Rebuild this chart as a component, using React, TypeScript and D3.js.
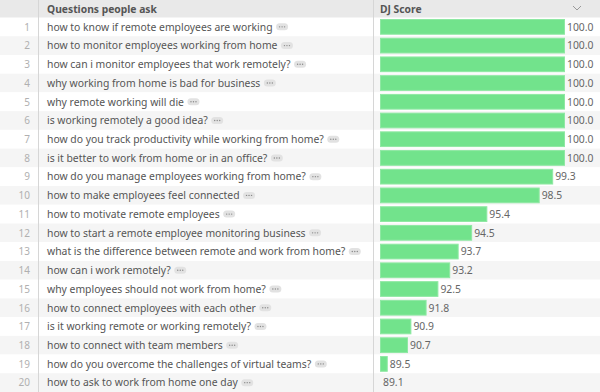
import React from "react";
import * as d3 from "d3";

const questions: string[] = [
  "how to know if remote employees are working",
  "how to monitor employees working from home",
  "how can i monitor employees that work remotely?",
  "why working from home is bad for business",
  "why remote working will die",
  "is working remotely a good idea?",
  "how do you track productivity while working from home?",
  "is it better to work from home or in an office?",
  "how do you manage employees working from home?",
  "how to make employees feel connected",
  "how to motivate remote employees",
  "how to start a remote employee monitoring business",
  "what is the difference between remote and work from home?",
  "how can i work remotely?",
  "why employees should not work from home?",
  "how to connect employees with each other",
  "is it working remote or working remotely?",
  "how to connect with team members",
  "how do you overcome the challenges of virtual teams?",
  "how to ask to work from home one day",
];
const scores: number[] = [100.0, 100.0, 100.0, 100.0, 100.0, 100.0, 100.0, 100.0, 99.3, 98.5, 95.4, 94.5, 93.7, 93.2, 92.5, 91.8, 90.9, 90.7, 89.5, 89.1];
const headers: string[] = ["Questions people ask", "DJ Score"];

const W = 600;
const H = 392;
const headerH = 17.5;
const rowH = (H - headerH) / questions.length;
const FONT = "'Noto Sans', sans-serif";

function measure(text: string, size: number, weight = 400): number {
  const c = document.createElement("canvas").getContext("2d")!;
  c.font = `${weight} ${size}px 'Noto Sans'`;
  return c.measureText(text).width;
}

export default function App() {
  const FS = Math.min(11.5, Math.max(9, (10 * 226) / measure(questions[0], 10)));
  const HFS = Math.min(12, Math.max(9, (10 * 110) / measure(headers[0], 10, 700)));
  const x = d3.scaleLinear().domain([d3.min(scores)!, d3.max(scores)!]).range([380, 564]);
  const y = d3.scaleBand<number>().domain(d3.range(questions.length)).range([headerH, H]);
  return (
    <svg width={W} height={H} style={{ display: "block", position: "absolute", left: 0, top: 0 }} fontFamily={FONT}>
      <rect x={0} y={0} width={W} height={H} fill="#fff" />
      {questions.map((q, i) => (
        <rect key={"bg" + i} x={0} y={y(i)!} width={W} height={rowH} fill={i % 2 === 1 ? "#f5f5f5" : "#fff"} />
      ))}
      <rect x={0} y={0} width={W} height={headerH} fill="#e9e9e9" />
      <line x1={38.5} x2={38.5} y1={0} y2={H} stroke="#d6d6d6" />
      <line x1={373.5} x2={373.5} y1={0} y2={H} stroke="#d6d6d6" />
      <text x={47} y={headerH / 2 + 4} fontSize={HFS} fontWeight={700} fill="#555">{headers[0]}</text>
      <text x={380} y={headerH / 2 + 4} fontSize={HFS} fontWeight={700} fill="#555">{headers[1]}</text>
      <path d="M573,6 L577,10 L581,6" fill="none" stroke="#999" strokeWidth={1} />
      {questions.map((q, i) => {
        const cy = y(i)! + rowH / 2;
        const tw = measure(q, FS);
        const bw = x(scores[i]) - x.range()[0];
        const bx = 47 + tw + 3.5;
        return (
          <g key={i}>
            <text x={30} y={cy + 3.8} fontSize={10} textAnchor="end" fill="#b0b0b0">{i + 1}</text>
            <text x={47} y={cy + 3.8} fontSize={FS} fill="#555">{q}</text>
            <rect x={bx} y={cy - 3.5} width={12} height={7} rx={3.5} fill="#e2e2e2" />
            {[-2.5, 0, 2.5].map((d) => (
              <circle key={d} cx={bx + 6 + d} cy={cy} r={0.7} fill="#888" />
            ))}
            {bw > 0 && (
              <rect x={380.5} y={y(i)! + 2} width={bw} height={rowH - 4} fill="#72e38c" stroke="#8fe8a3" strokeWidth={1} />
            )}
            <text x={x.range()[0] + bw + 3} y={cy + 3.8} fontSize={FS} fill="#666">{scores[i].toFixed(1)}</text>
          </g>
        );
      })}
    </svg>
  );
}
